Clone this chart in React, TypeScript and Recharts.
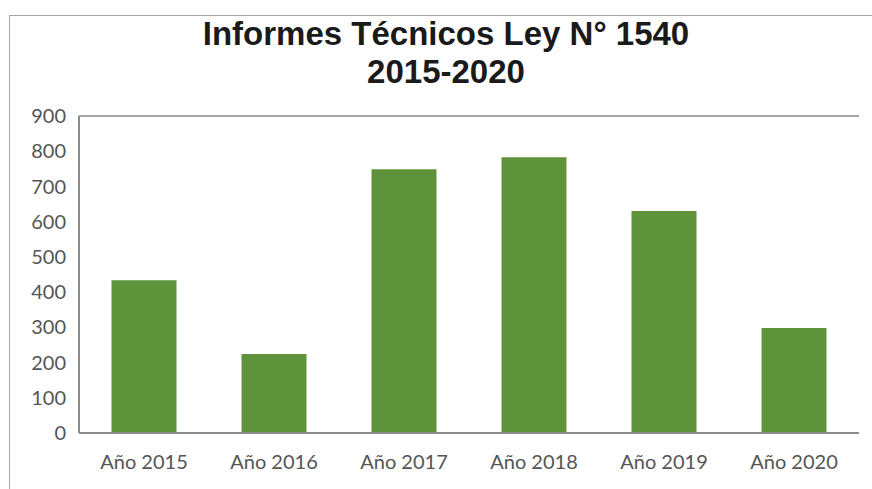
import { BarChart, Bar, XAxis, YAxis, CartesianGrid } from "recharts";

const years = ["Año 2015", "Año 2016", "Año 2017", "Año 2018", "Año 2019", "Año 2020"];
const informes = [434, 224, 749, 783, 630, 298];
const yTicks = [0, 100, 200, 300, 400, 500, 600, 700, 800, 900];

const data = years.map((y, i) => ({ year: y, value: informes[i] }));

const tickStyle = { fill: "#555555", fontSize: 20, fontFamily: "Lato, 'Open Sans', sans-serif" };

export default function App() {
  return (
    <div style={{ position: "absolute", left: 0, top: 0, width: 872, height: 489, background: "#fff", overflow: "hidden" }}>
      {/* outer frame, runs off the right and bottom edges */}
      <div
        style={{
          position: "absolute",
          left: 9,
          top: 15,
          width: 900,
          height: 520,
          border: "1.5px solid #a6a6a6",
          boxSizing: "border-box",
        }}
      />
      <div
        style={{
          position: "absolute",
          left: 0,
          top: 15,
          width: 892,
          textAlign: "center",
          fontFamily: "'Liberation Sans', Arial, sans-serif",
          fontWeight: "bold",
          fontSize: 33,
          lineHeight: "38px",
          color: "#1a1a1a",
        }}
      >
        <div>Informes Técnicos Ley N° 1540</div>
        <div>2015-2020</div>
      </div>
      <div style={{ position: "absolute", left: 0, top: 0 }}>
        <BarChart
          width={872}
          height={489}
          data={data}
          margin={{ top: 116, right: 13, bottom: 26, left: 29 }}
          barCategoryGap="25%"
        >
          <CartesianGrid vertical={false} stroke="#a6a6a6" strokeWidth={1.8} />
          <XAxis
            dataKey="year"
            height={30}
            tickLine={false}
            tickSize={0}
            tickMargin={22}
            axisLine={{ stroke: "#8c8c8c", strokeWidth: 2 }}
            tick={tickStyle}
          />
          <YAxis
            yAxisId="left"
            width={50}
            domain={[0, 900]}
            ticks={yTicks}
            tickLine={false}
            tickSize={13}
            tickMargin={0}
            axisLine={{ stroke: "#8c8c8c", strokeWidth: 2 }}
            tick={tickStyle}
          />
          <YAxis
            yAxisId="right"
            orientation="right"
            width={0}
            domain={[0, 900]}
            tick={false}
            tickLine={false}
            axisLine={{ stroke: "#bfbfbf", strokeWidth: 1.5 }}
          />
          <Bar yAxisId="left" dataKey="value" fill="#5e933b" isAnimationActive={false} />
        </BarChart>
      </div>
    </div>
  );
}
